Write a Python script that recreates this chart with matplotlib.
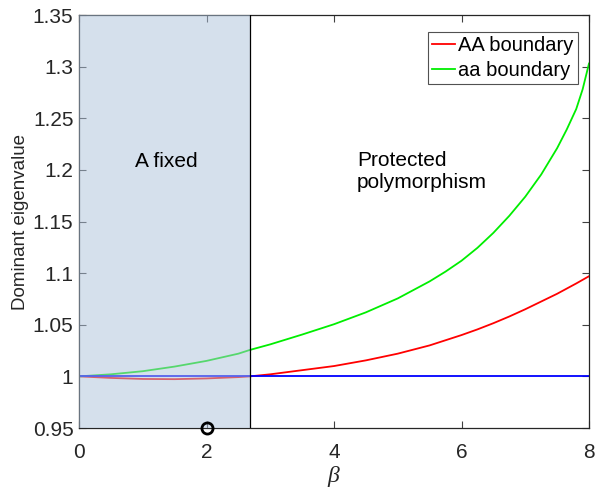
import matplotlib
matplotlib.use("Agg")
import matplotlib.pyplot as plt

plt.rcParams['font.family'] = ['Liberation Sans', 'DejaVu Sans']
plt.rcParams['mathtext.fontset'] = 'custom'
plt.rcParams['mathtext.it'] = 'Liberation Serif:italic'

beta = [0, 0.5, 1.0, 1.5, 2.0, 2.5, 2.68, 3.0, 3.5, 4.0, 4.5, 5.0, 5.5, 5.75, 6.0, 6.25, 6.5,
        6.75, 7.0, 7.25, 7.5, 7.65, 7.8, 7.9, 8.0]
aa_boundary = [1.0, 1.002, 1.005, 1.0095, 1.015, 1.022, 1.0256, 1.031, 1.0405, 1.0505,
               1.062, 1.0755, 1.092, 1.1015, 1.112, 1.1245, 1.139, 1.1555, 1.174, 1.1955,
               1.221, 1.239, 1.259, 1.278, 1.303]
AA_boundary = [1.0, 0.9985, 0.9975, 0.9973, 0.998, 0.9993, 1.0, 1.002, 1.006, 1.010,
               1.0155, 1.022, 1.030, 1.035, 1.040, 1.0455, 1.0515, 1.058, 1.065, 1.0725,
               1.080, 1.085, 1.090, 1.0935, 1.097]
fixed_line = [1.0] * len(beta)
fixed_edge = 2.68
marker_x, marker_y = 2.0, 0.95

fig = plt.figure(figsize=(5.95, 4.93), dpi=100)
ax = fig.add_axes([79/595, 1 - 428/493, 510/595, 413/493])

ax.plot(beta, AA_boundary, color='#ff0000', lw=1.3, label='AA boundary', zorder=2)
ax.plot(beta, aa_boundary, color='#00ee00', lw=1.3, label='aa boundary', zorder=2)
ax.plot(beta, fixed_line, color='#0000ff', lw=1.3, zorder=2)

ax.fill_between([0, fixed_edge], 0.95, 1.35, facecolor=(0.68, 0.76, 0.86), alpha=0.5,
                edgecolor='none', zorder=3)
ax.plot([fixed_edge, fixed_edge], [0.95, 1.35], color='black', lw=0.9, zorder=4)
ax.plot(marker_x, marker_y, 'o', mfc='none', mec='black', ms=8, mew=2, clip_on=False, zorder=5)

ax.text(1.37, 1.208, 'A fixed', fontsize=15, ha='center', va='center', zorder=6)
ax.text(4.36, 1.198, 'Protected\npolymorphism', fontsize=15, ha='left', va='center',
        linespacing=1.2, zorder=6)

ax.set_xlim(0, 8)
ax.set_ylim(0.95, 1.35)
ax.set_xticks([0, 2, 4, 6, 8])
ax.set_yticks([0.95, 1.0, 1.05, 1.1, 1.15, 1.2, 1.25, 1.3, 1.35])
ax.set_yticklabels(['0.95', '1', '1.05', '1.1', '1.15', '1.2', '1.25', '1.3', '1.35'])
ax.tick_params(direction='in', top=True, right=True, labelsize=15, length=5,
               color='#404040', labelcolor='#262626', width=0.8)
ax.tick_params(axis='x', pad=10.5)
ax.tick_params(axis='y', pad=4)
for s in ax.spines.values():
    s.set_color('#262626')
    s.set_linewidth(0.9)
ax.set_xlabel(r'$\it{\beta}$', fontsize=17, color='#262626', labelpad=2)
ax.set_ylabel('Dominant eigenvalue', fontsize=13.5, color='#262626', labelpad=3)

leg = ax.legend(loc='upper right', bbox_to_anchor=(0.978, 0.959), borderaxespad=0,
                fontsize=14.5, frameon=True, fancybox=False,
                handlelength=1.15, handletextpad=0.15, borderpad=0.2, labelspacing=0.3)
leg.get_frame().set_edgecolor('#262626')
leg.get_frame().set_linewidth(0.8)

fig.savefig('out.png', dpi=100)
